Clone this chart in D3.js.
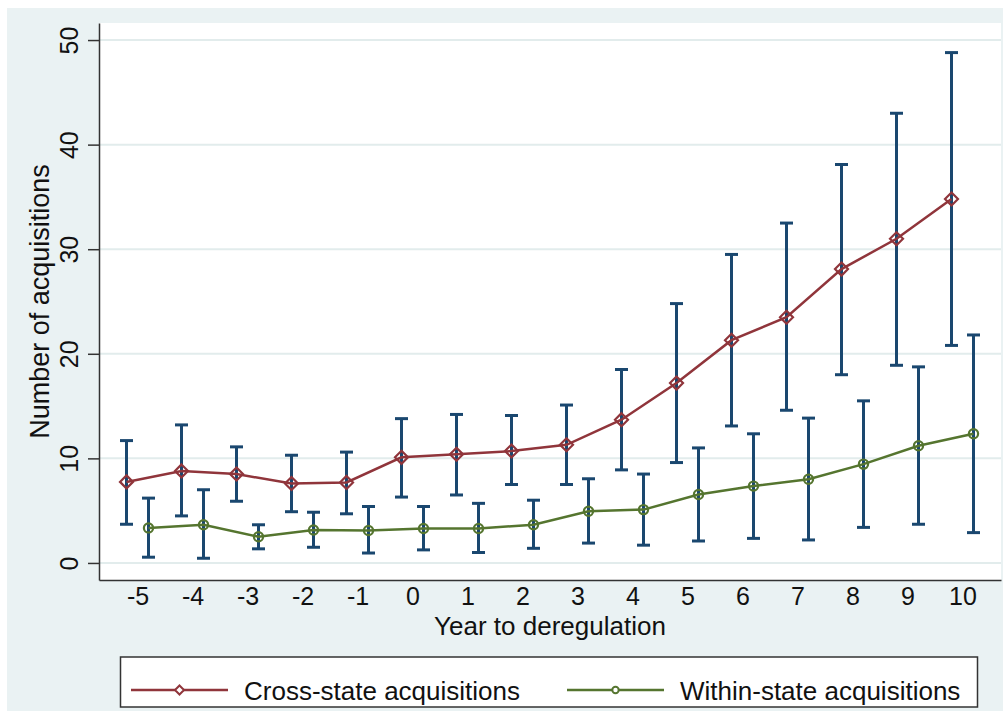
<!DOCTYPE html>
<html>
<head>
<meta charset="utf-8">
<script src="https://cdn.jsdelivr.net/npm/d3@7"></script>
<style>
  html, body { margin: 0; padding: 0; background: #ffffff; }
  svg { display: block; font-family: "Liberation Sans", Arial, sans-serif; }
</style>
</head>
<body>
<svg id="chart" width="1008" height="711"></svg>
<script>
// Event-time axis: years relative to deregulation
const years = [-5, -4, -3, -2, -1, 0, 1, 2, 3, 4, 5, 6, 7, 8, 9, 10];

// Cross-state acquisitions: mean with confidence interval
const crossMean = [7.75, 8.8, 8.5, 7.6, 7.7, 10.1, 10.4, 10.7, 11.3, 13.7, 17.2, 21.3, 23.5, 28.1, 31.0, 34.8];
const crossLow  = [3.7, 4.5, 5.9, 4.9, 4.7, 6.3, 6.5, 7.5, 7.5, 8.9, 9.6, 13.1, 14.6, 18.0, 18.9, 20.8];
const crossHigh = [11.7, 13.2, 11.1, 10.3, 10.6, 13.8, 14.2, 14.1, 15.1, 18.5, 24.8, 29.5, 32.5, 38.1, 43.0, 48.8];

// Within-state acquisitions: mean with confidence interval
const withinMean = [3.35, 3.65, 2.5, 3.15, 3.1, 3.3, 3.3, 3.65, 4.95, 5.1, 6.55, 7.35, 8.0, 9.45, 11.2, 12.35];
const withinLow  = [0.55, 0.45, 1.35, 1.5, 0.95, 1.25, 1.0, 1.4, 1.9, 1.7, 2.1, 2.35, 2.2, 3.4, 3.7, 2.9];
const withinHigh = [6.2, 7.0, 3.65, 4.85, 5.4, 5.4, 5.7, 6.0, 8.05, 8.5, 11.0, 12.35, 13.85, 15.5, 18.75, 21.8];

const yTicks = [0, 10, 20, 30, 40, 50];
const seriesNames = ["Cross-state acquisitions", "Within-state acquisitions"];
const xTitle = "Year to deregulation";
const yTitle = "Number of acquisitions";

// Colours (Stata s2color scheme)
const bgColor = "#eaf2f3";
const gridColor = "#e2ecec";
const barColor = "#1a476f";
const crossColor = "#90353b";
const withinColor = "#55752f";

const svg = d3.select("#chart");
const plot = { left: 99, right: 1001, top: 23, bottom: 580 };

// Outer graph region
svg.append("rect").attr("x", 7).attr("y", 8).attr("width", 996).attr("height", 703).attr("fill", bgColor);
// Plot region
svg.append("rect").attr("x", plot.left).attr("y", plot.top)
  .attr("width", plot.right - plot.left).attr("height", plot.bottom - plot.top).attr("fill", "#ffffff");

const x = d3.scaleLinear().domain([-5.7, 10.7]).range([plot.left, plot.right]);
const y = d3.scaleLinear().domain([-1.63, 51.63]).range([plot.bottom, plot.top]);

const offset = 0.2; // horizontal shift separating the two series

// Gridlines
svg.append("g").selectAll("line").data(yTicks).join("line")
  .attr("x1", plot.left).attr("x2", plot.right)
  .attr("y1", d => y(d)).attr("y2", d => y(d))
  .attr("stroke", gridColor).attr("stroke-width", 2);

// Y axis
const yAxis = svg.append("g").attr("transform", `translate(${plot.left},0)`)
  .call(d3.axisLeft(y).tickValues(yTicks).tickSize(11).tickSizeOuter(0));
yAxis.select(".domain").attr("stroke", "#333").attr("stroke-width", 1.5);
yAxis.selectAll(".tick line").attr("stroke", "#333").attr("stroke-width", 1.5);
yAxis.selectAll(".tick text")
  .attr("transform", "rotate(-90)")
  .attr("x", 0).attr("y", -21).attr("dy", 0)
  .attr("text-anchor", "middle")
  .attr("font-size", 25).attr("fill", "#111")
  .style("font-family", "'Liberation Sans', Arial, sans-serif");

// X axis
const xAxis = svg.append("g").attr("transform", `translate(0,${plot.bottom})`)
  .call(d3.axisBottom(x).tickValues(years).tickSize(0).tickSizeOuter(0).tickFormat(d3.format("d")));
xAxis.select(".domain").attr("stroke", "#333").attr("stroke-width", 1.5);
xAxis.selectAll(".tick text")
  .attr("y", 24.5).attr("dy", 0)
  .attr("font-size", 25).attr("fill", "#111")
  .style("font-family", "'Liberation Sans', Arial, sans-serif")
  .text(d => d < 0 ? "-" + Math.abs(d) : String(d));

// Axis titles
svg.append("text").attr("x", (plot.left + plot.right) / 2).attr("y", 635)
  .attr("text-anchor", "middle").attr("font-size", 26).attr("fill", "#111").text(xTitle);
svg.append("text").attr("transform", `translate(49,${(plot.top + plot.bottom) / 2}) rotate(-90)`)
  .attr("text-anchor", "middle").attr("font-size", 27).attr("fill", "#111").text(yTitle);

// Error bars (range with caps)
function drawBars(lows, highs, shift) {
  const data = years.map((yr, i) => ({ yr, lo: lows[i], hi: highs[i] }));
  const g = svg.append("g").attr("stroke", barColor).attr("stroke-width", 3).attr("fill", "none");
  g.selectAll(".stem").data(data).join("line")
    .attr("x1", d => x(d.yr + shift)).attr("x2", d => x(d.yr + shift))
    .attr("y1", d => y(d.lo)).attr("y2", d => y(d.hi));
  g.selectAll(".capHi").data(data).join("line")
    .attr("x1", d => x(d.yr + shift) - 6.5).attr("x2", d => x(d.yr + shift) + 6.5)
    .attr("y1", d => y(d.hi)).attr("y2", d => y(d.hi));
  g.selectAll(".capLo").data(data).join("line")
    .attr("x1", d => x(d.yr + shift) - 6.5).attr("x2", d => x(d.yr + shift) + 6.5)
    .attr("y1", d => y(d.lo)).attr("y2", d => y(d.lo));
}
drawBars(crossLow, crossHigh, -offset);
drawBars(withinLow, withinHigh, offset);

const diamondPath = r => `M0,${-r}L${r},0L0,${r}L${-r},0Z`;

// Connected series with hollow markers
function drawSeries(means, shift, color, marker) {
  const data = years.map((yr, i) => ({ yr, v: means[i] }));
  const line = d3.line().x(d => x(d.yr + shift)).y(d => y(d.v));
  svg.append("path").datum(data).attr("d", line)
    .attr("fill", "none").attr("stroke", color).attr("stroke-width", 2.5);
  const g = svg.append("g");
  if (marker === "diamond") {
    g.selectAll("path").data(data).join("path")
      .attr("transform", d => `translate(${x(d.yr + shift)},${y(d.v)})`)
      .attr("d", diamondPath(6.5))
      .attr("fill", "none").attr("stroke", color).attr("stroke-width", 2.2);
  } else {
    g.selectAll("circle").data(data).join("circle")
      .attr("cx", d => x(d.yr + shift)).attr("cy", d => y(d.v)).attr("r", 4.6)
      .attr("fill", "none").attr("stroke", color).attr("stroke-width", 2.2);
  }
}
drawSeries(crossMean, -offset, crossColor, "diamond");
drawSeries(withinMean, offset, withinColor, "circle");

// Legend
const legend = svg.append("g");
legend.append("rect").attr("x", 120.5).attr("y", 657).attr("width", 857).attr("height", 50)
  .attr("fill", "#ffffff").attr("stroke", "#333").attr("stroke-width", 1.5);
const legendItems = [
  { name: seriesNames[0], color: crossColor, marker: "diamond", x0: 131, x1: 228, tx: 244 },
  { name: seriesNames[1], color: withinColor, marker: "circle", x0: 567, x1: 664, tx: 680 }
];
const ly = 690;
legendItems.forEach(it => {
  legend.append("line").attr("x1", it.x0).attr("x2", it.x1).attr("y1", ly).attr("y2", ly)
    .attr("stroke", it.color).attr("stroke-width", 2.5);
  const mx = (it.x0 + it.x1) / 2;
  if (it.marker === "diamond") {
    legend.append("path").attr("transform", `translate(${mx},${ly})`).attr("d", diamondPath(4.5))
      .attr("fill", "#ffffff").attr("stroke", it.color).attr("stroke-width", 2);
  } else {
    legend.append("circle").attr("cx", mx).attr("cy", ly).attr("r", 3.2)
      .attr("fill", "#ffffff").attr("stroke", it.color).attr("stroke-width", 2);
  }
  legend.append("text").attr("x", it.tx).attr("y", ly + 9.5).attr("font-size", 26)
    .attr("fill", "#111").text(it.name);
});
</script>
</body>
</html>
